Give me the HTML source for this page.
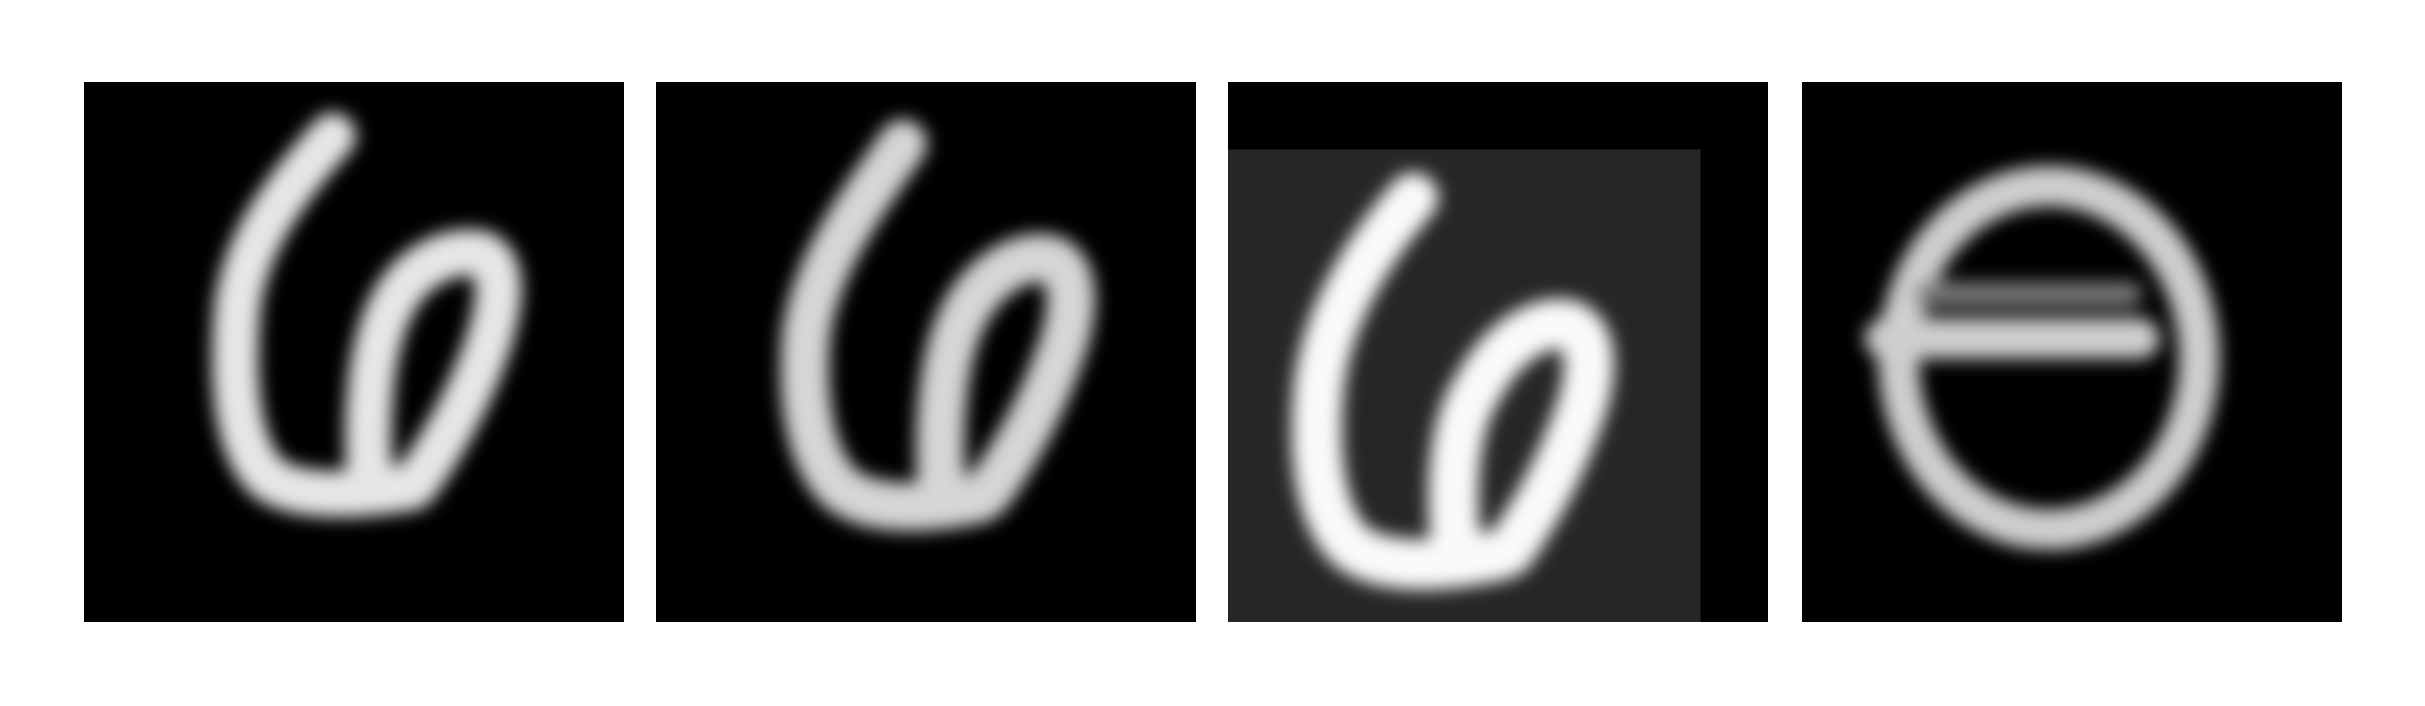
<!DOCTYPE html>
<html><head><meta charset="utf-8"><style>
html,body{margin:0;padding:0;background:#fff;width:2425px;height:706px;overflow:hidden}
svg{position:absolute;top:82px;width:540px;height:540px}
</style></head><body>
<svg style="left:84px" viewBox="0 0 28 28">
<defs><filter id="b" x="-20%" y="-20%" width="140%" height="140%"><feGaussianBlur stdDeviation="0.45"/></filter></defs>
<rect width="28" height="28" fill="#000"/>
<g filter="url(#b)" fill="none" stroke="#e6e6e6" stroke-width="2.4" stroke-linecap="round" stroke-linejoin="round">
<path d="M12.9 2.8 C10 6 8 9 7.9 12.5 C7.7 16 8 19 9.5 20.5 C11 21.6 14 21.5 17 21 M14.8 20.5 C14.6 17 14.9 13.5 16 11.5 C17 9.5 19 8.6 20.6 8.9 C22 9.5 21.5 12 20.8 14 C19.9 16.5 18.5 19 17.2 20.8"/>
</g></svg>
<svg style="left:656px" viewBox="0 0 28 28">
<rect width="28" height="28" fill="#000"/>
<g filter="url(#b)" fill="none" stroke="#d6d6d6" stroke-width="2.5" stroke-linecap="round" stroke-linejoin="round">
<path d="M12.8 3.2 C10.5 6.5 8.3 9.5 7.8 13 C7.5 16.5 8 19.5 9.5 21 C11 22.3 14 22.2 16.8 21.6 M14.8 21 C14.6 17.5 14.9 14 16 12 C17 10 19 8.8 20.5 9.2 C22 9.8 21.6 12.5 20.8 14.5 C19.9 17 18.5 19.5 17.2 21.3"/>
</g></svg>
<svg style="left:1228px" viewBox="0 0 28 28">
<rect width="28" height="28" fill="#000"/>
<rect x="0" y="3.5" width="24.5" height="24.5" fill="#262626"/>
<g filter="url(#b)" fill="none" stroke="#fafafa" stroke-width="2.6" stroke-linecap="round" stroke-linejoin="round">
<path d="M9.6 6 C7 9 5 12.5 4.7 16 C4.4 19.5 4.8 22.5 6.3 24 C7.8 25.3 11 25.2 14.2 24.5 M11.8 24 C11.5 20.5 11.8 17.5 13 15.8 C14 13.8 16 12.2 17.7 12.6 C19.2 13.2 18.8 15.8 18 17.8 C17 20.5 15.8 22.5 14.6 24.3"/>
</g></svg>
<svg style="left:1802px" viewBox="0 0 28 28">
<rect width="28" height="28" fill="#000"/>
<g filter="url(#b)" fill="none" stroke="#cfcfcf" stroke-width="2.1" stroke-linecap="round" stroke-linejoin="round">
<ellipse cx="12.8" cy="14.3" rx="7.8" ry="8.9"/>
<path d="M4.3 13.3 L17.5 13.3"/>
<path d="M6.5 11 L17 11" stroke="#777" stroke-width="1.3"/>
</g></svg>
</body></html>
